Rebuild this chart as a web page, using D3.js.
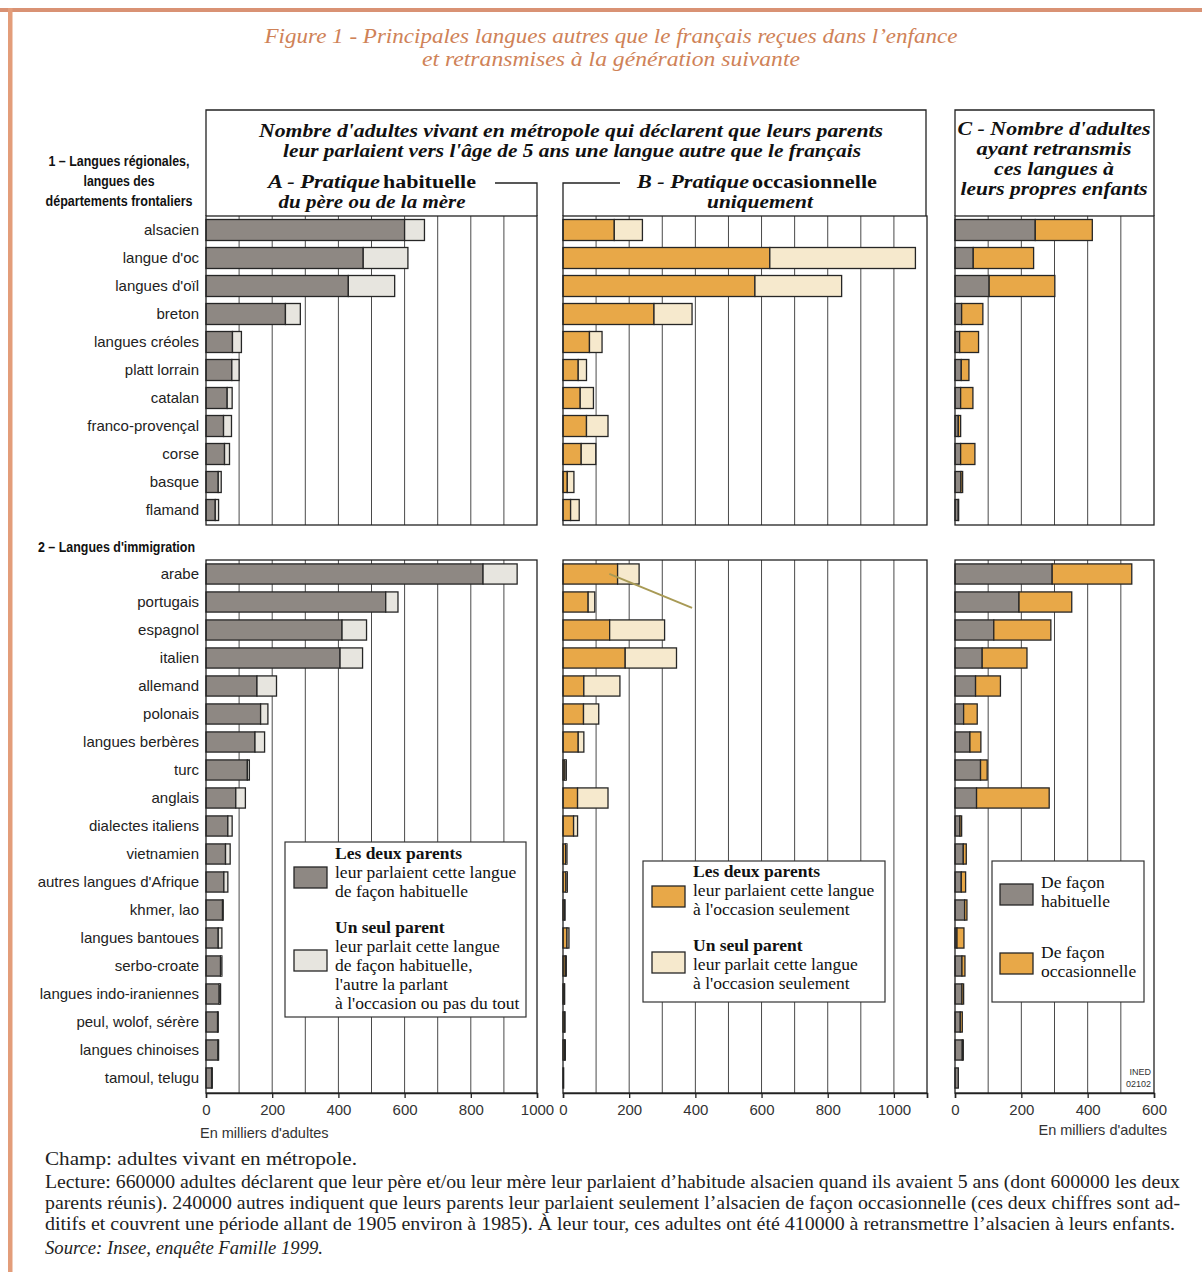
<!DOCTYPE html>
<html>
<head>
<meta charset="utf-8">
<script src="https://cdn.jsdelivr.net/npm/d3@7/dist/d3.min.js"></script>
<style>
    body { margin: 0; background: #fff; }
    svg { display: block; }
    .cat { font-family: 'Liberation Sans', Arial, sans-serif; font-size: 15px; fill: #222; }
    .sec { font-family: 'Liberation Sans', Arial, sans-serif; font-size: 14.5px; font-weight: bold; fill: #111; }
    .head { font-family: 'Liberation Serif', 'DejaVu Serif', serif; font-size: 18px; font-weight: bold; font-style: italic; fill: #111; }
    .leg { font-family: 'Liberation Serif', serif; font-size: 17.5px; fill: #111; }
    .tick text { font-family: 'Liberation Sans', Arial, sans-serif; font-size: 15px; fill: #333; }
    .unit { font-family: 'Liberation Sans', Arial, sans-serif; font-size: 14.5px; fill: #333; }
    .foot { font-family: 'Liberation Serif', serif; font-size: 18px; fill: #222; }
    .title { font-family: 'Liberation Serif', serif; font-size: 22px; font-style: italic; fill: #cf8257; }
</style>
</head>
<body>
<svg id="chart" width="1202" height="1272"></svg>
<script>
// ---- data (thousands of adults) ----
const regionalLangs = ['alsacien', "langue d'oc", "langues d'oïl", 'breton', 'langues créoles', 'platt lorrain',
    'catalan', 'franco-provençal', 'corse', 'basque', 'flamand'];
// A - habitual: both parents / one parent only
const regionalHabBoth = [600, 475, 430, 240, 80, 78, 64, 53, 56, 37, 28];
const regionalHabOne  = [60, 135, 140, 45, 27, 22, 15, 24, 15, 9, 10];
// B - occasional only: both parents / one parent
const regionalOccBoth = [155, 625, 580, 275, 80, 46, 52, 71, 55, 13, 23];
const regionalOccOne  = [85, 440, 262, 115, 38, 25, 40, 65, 44, 20, 26];
// C - transmitted to own children: habitually / occasionally
const regionalTransHab = [242, 55, 103, 20, 14, 19, 17, 10, 17, 18, 10];
const regionalTransOcc = [172, 182, 198, 64, 57, 23, 37, 7, 43, 5, 1];

const immigLangs = ['arabe', 'portugais', 'espagnol', 'italien', 'allemand', 'polonais', 'langues berbères',
    'turc', 'anglais', 'dialectes italiens', 'vietnamien', "autres langues d'Afrique", 'khmer, lao',
    'langues bantoues', 'serbo-croate', 'langues indo-iraniennes', 'peul, wolof, sérère',
    'langues chinoises', 'tamoul, telugu'];
const immigHabBoth = [837, 543, 411, 405, 154, 165, 148, 125, 90, 66, 59, 54, 50, 37, 44, 40, 35, 36, 17];
const immigHabOne  = [103, 37, 74, 68, 59, 22, 29, 6, 29, 13, 14, 12, 2, 11, 4, 4, 2, 2, 2];
const immigOccBoth = [165, 76, 141, 188, 63, 62, 46, 6, 44, 32, 8, 9, 5, 12, 7, 4, 5, 5, 2];
const immigOccOne  = [65, 20, 166, 155, 109, 46, 17, 4, 92, 12, 4, 4, 1, 6, 3, 1, 1, 2, 0];
const immigTransHab = [293, 193, 117, 82, 62, 26, 45, 77, 65, 15, 25, 19, 29, 6, 21, 21, 16, 22, 10];
const immigTransOcc = [240, 159, 172, 135, 75, 41, 33, 20, 219, 5, 9, 13, 7, 21, 9, 5, 6, 3, 0];

const tickA = [0, 200, 400, 600, 800, 1000];
const tickB = [0, 200, 400, 600, 800, 1000, 1100];
const tickC = [0, 200, 400, 600];

const titleLines = ["Figure 1 - Principales langues autres que le français reçues dans l’enfance",
    "et retransmises à la génération suivante"];
const footLines = [
    "Lecture: 660000 adultes déclarent que leur père et/ou leur mère leur parlaient d’habitude alsacien quand ils avaient 5 ans (dont 600000 les deux",
    "parents réunis). 240000 autres indiquent que leurs parents leur parlaient seulement l’alsacien de façon occasionnelle (ces deux chiffres sont ad-",
    "ditifs et couvrent une période allant de 1905 environ à 1985). À leur tour, ces adultes ont été 410000 à retransmettre l’alsacien à leurs enfants."
];

const COL = {
    dark: '#8e8883', light: '#e7e5df', orange: '#e8a848', lorange: '#f6e9cd',
    stroke: '#262626', grid: '#4a4a4a'
};

class LanguageChart {
    constructor() {
        this.svg = d3.select('#chart');
        this.xA = d3.scaleLinear().domain([0, 1000]).range([206, 537]);
        this.xB = d3.scaleLinear().domain([0, 1100]).range([563, 927]);
        this.xC = d3.scaleLinear().domain([0, 600]).range([955, 1154]);
        this.y1 = d3.scaleBand().domain(regionalLangs).range([216, 524]).paddingInner(0.25).paddingOuter(0.125);
        this.y2 = d3.scaleBand().domain(immigLangs).range([560, 1092]).paddingInner(0.28).paddingOuter(0.14);
        this.init();
    }

    init() {
        this.drawFrame();
        this.drawHeaders();
        this.drawPanel(this.xA, this.y1, 216, 525, regionalLangs, regionalHabBoth, regionalHabOne, COL.dark, COL.light);
        this.drawPanel(this.xB, this.y1, 216, 525, regionalLangs, regionalOccBoth, regionalOccOne, COL.orange, COL.lorange);
        this.drawPanel(this.xC, this.y1, 216, 525, regionalLangs, regionalTransHab, regionalTransOcc, COL.dark, COL.orange);
        this.drawPanel(this.xA, this.y2, 560, 1093, immigLangs, immigHabBoth, immigHabOne, COL.dark, COL.light);
        this.drawPanel(this.xB, this.y2, 560, 1093, immigLangs, immigOccBoth, immigOccOne, COL.orange, COL.lorange);
        this.drawPanel(this.xC, this.y2, 560, 1093, immigLangs, immigTransHab, immigTransOcc, COL.dark, COL.orange);
        this.drawLabels();
        this.drawAxes();
        this.drawLegends();
        this.drawFooter();
    }

    drawFrame() {
        this.svg.append('rect').attr('x', 0).attr('y', 8).attr('width', 1202).attr('height', 4).attr('fill', '#d99274');
        this.svg.append('rect').attr('x', 8).attr('y', 8).attr('width', 4.5).attr('height', 1264).attr('fill', '#e39d7a');
        const lens = [693, 378];
        this.svg.selectAll('text.title')
            .data(titleLines)
            .enter().append('text')
            .attr('class', 'title')
            .attr('text-anchor', 'middle')
            .attr('x', 611)
            .attr('y', (d, i) => 43 + i * 23)
            .attr('textLength', (d, i) => lens[i])
            .attr('lengthAdjust', 'spacingAndGlyphs')
            .text(d => d);
    }

    headText(g, t, x, y, len, anchor = 'start', upright = false) {
        const el = g.append('text').attr('class', 'head')
            .attr('text-anchor', anchor)
            .attr('x', x).attr('y', y)
            .attr('textLength', len).attr('lengthAdjust', 'spacingAndGlyphs')
            .text(t);
        if (upright) el.style('font-style', 'normal');
        return el;
    }

    drawHeaders() {
        const g = this.svg.append('g');
        const line = (d) => g.append('path').attr('d', d).attr('fill', 'none').attr('stroke', '#222').attr('stroke-width', 1.3);
        line('M206,216 V110 H926 V216');
        line('M955,216 V110 H1154 V216');
        line('M495,183 H537 V216');
        line('M620,183 H563 V216');

        this.headText(g, "Nombre d'adultes vivant en métropole qui déclarent que leurs parents", 571, 137, 624, 'middle');
        this.headText(g, "leur parlaient vers l'âge de 5 ans une langue autre que le français", 572, 157, 578, 'middle');

        this.headText(g, 'A - Pratique', 268, 187.5, 112);
        this.headText(g, 'habituelle', 383, 187.5, 93, 'start', true);
        this.headText(g, 'du père ou de la mère', 372, 207.5, 187, 'middle');

        this.headText(g, 'B - Pratique', 637, 187.5, 112);
        this.headText(g, 'occasionnelle', 752, 187.5, 125, 'start', true);
        this.headText(g, 'uniquement', 760, 207.5, 106, 'middle');

        const cLines = [["C - Nombre d'adultes", 193], ['ayant retransmis', 155], ['ces langues à', 120], ['leurs propres enfants', 187]];
        cLines.forEach(([t, len], i) => this.headText(g, t, 1054, 135 + i * 20, len, 'middle'));
    }

    drawPanel(x, y, top, bottom, langs, first, second, c1, c2) {
        const g = this.svg.append('g');
        const [x0, x1] = x.range();

        // vertical grid every 100
        const gridVals = d3.range(100, x.domain()[1], 100);
        g.selectAll('line.grid')
            .data(gridVals)
            .enter().append('line')
            .attr('x1', d => x(d)).attr('x2', d => x(d))
            .attr('y1', top).attr('y2', bottom)
            .attr('stroke', COL.grid).attr('stroke-width', 1);

        const rows = langs.map((l, i) => ({ lang: l, a: first[i], b: second[i] }));

        g.selectAll('rect.seg1')
            .data(rows)
            .enter().append('rect')
            .attr('x', x(0))
            .attr('y', d => y(d.lang))
            .attr('width', d => x(d.a) - x(0))
            .attr('height', y.bandwidth())
            .attr('fill', c1).attr('stroke', COL.stroke).attr('stroke-width', 1.3);

        g.selectAll('rect.seg2')
            .data(rows.filter(d => d.b > 0))
            .enter().append('rect')
            .attr('x', d => x(d.a))
            .attr('y', d => y(d.lang))
            .attr('width', d => x(d.a + d.b) - x(d.a))
            .attr('height', y.bandwidth())
            .attr('fill', c2).attr('stroke', COL.stroke).attr('stroke-width', 1.3);

        g.append('rect')
            .attr('x', x0).attr('y', top)
            .attr('width', x1 - x0).attr('height', bottom - top)
            .attr('fill', 'none').attr('stroke', '#222').attr('stroke-width', 1.3);
    }

    drawLabels() {
        const g = this.svg.append('g');
        g.selectAll('text.c1')
            .data(regionalLangs)
            .enter().append('text')
            .attr('class', 'cat')
            .attr('text-anchor', 'end')
            .attr('x', 199)
            .attr('y', d => this.y1(d) + this.y1.bandwidth() / 2)
            .attr('dy', '0.35em')
            .text(d => d);
        g.selectAll('text.c2')
            .data(immigLangs)
            .enter().append('text')
            .attr('class', 'cat')
            .attr('text-anchor', 'end')
            .attr('x', 199)
            .attr('y', d => this.y2(d) + this.y2.bandwidth() / 2)
            .attr('dy', '0.35em')
            .text(d => d);

        const secLines = [['1 – Langues régionales,', 141], ['langues des', 71], ['départements frontaliers', 147]];
        secLines.forEach(([t, len], i) => {
            g.append('text').attr('class', 'sec').attr('text-anchor', 'middle')
                .attr('x', 119).attr('y', 166 + i * 20)
                .attr('textLength', len).attr('lengthAdjust', 'spacingAndGlyphs')
                .text(t);
        });
        g.append('text').attr('class', 'sec').attr('x', 38).attr('y', 552)
            .attr('textLength', 157).attr('lengthAdjust', 'spacingAndGlyphs')
            .text("2 – Langues d'immigration");

        // stray pen stroke visible on the scan
        g.append('line')
            .attr('x1', this.xB(140)).attr('y1', this.y2('arabe') + 10)
            .attr('x2', this.xB(390)).attr('y2', this.y2('portugais') + 16)
            .attr('stroke', '#a89a55').attr('stroke-width', 2);
    }

    drawAxes() {
        const mk = (x, vals) => {
            const ax = d3.axisBottom(x).tickValues(vals).tickSize(5).tickPadding(6)
                .tickFormat(d => (d === 1100 ? '' : d3.format('d')(d)));
            const g = this.svg.append('g').attr('transform', 'translate(0,1093)').call(ax);
            g.select('.domain').attr('stroke', '#222').attr('stroke-width', 1.5);
            g.selectAll('.tick line').attr('stroke', '#222').attr('stroke-width', 1.3);
        };
        mk(this.xA, tickA);
        mk(this.xB, tickB);
        mk(this.xC, tickC);

        this.svg.append('text').attr('class', 'unit').attr('x', 200).attr('y', 1138).text("En milliers d'adultes");
        this.svg.append('text').attr('class', 'unit').attr('text-anchor', 'end').attr('x', 1167).attr('y', 1135).text("En milliers d'adultes");
        this.svg.append('text').attr('class', 'unit').style('font-size', '9px').attr('text-anchor', 'end')
            .attr('x', 1151).attr('y', 1075).text('INED');
        this.svg.append('text').attr('class', 'unit').style('font-size', '9px').attr('text-anchor', 'end')
            .attr('x', 1151).attr('y', 1087).text('02102');
    }

    legendBox(x, y, w, h, items) {
        const g = this.svg.append('g');
        g.append('rect').attr('x', x).attr('y', y).attr('width', w).attr('height', h)
            .attr('fill', '#fff').attr('stroke', '#333').attr('stroke-width', 1.2);
        items.forEach(it => {
            g.append('rect').attr('x', it.sx).attr('y', it.sy).attr('width', 33).attr('height', 21)
                .attr('fill', it.color).attr('stroke', COL.stroke).attr('stroke-width', 1.3);
            it.lines.forEach((t, i) => {
                g.append('text').attr('class', 'leg')
                    .style('font-weight', (it.bold && i === 0) ? 'bold' : 'normal')
                    .attr('x', it.tx).attr('y', it.ty + i * 19).text(t);
            });
        });
    }

    drawLegends() {
        this.legendBox(285, 842, 241, 175, [
            { sx: 294, sy: 867, tx: 335, ty: 859, color: COL.dark, bold: true,
              lines: ['Les deux parents', 'leur parlaient cette langue', 'de façon habituelle'] },
            { sx: 294, sy: 950, tx: 335, ty: 933, color: COL.light, bold: true,
              lines: ['Un seul parent', 'leur parlait cette langue', 'de façon habituelle,', "l'autre la parlant", "à l'occasion ou pas du tout"] }
        ]);
        this.legendBox(643, 861, 242, 141, [
            { sx: 652, sy: 886, tx: 693, ty: 877, color: COL.orange, bold: true,
              lines: ['Les deux parents', 'leur parlaient cette langue', "à l'occasion seulement"] },
            { sx: 652, sy: 952, tx: 693, ty: 951, color: COL.lorange, bold: true,
              lines: ['Un seul parent', 'leur parlait cette langue', "à l'occasion seulement"] }
        ]);
        this.legendBox(992, 861, 152, 141, [
            { sx: 1000, sy: 884, tx: 1041, ty: 888, color: COL.dark, bold: false, lines: ['De façon', 'habituelle'] },
            { sx: 1000, sy: 953, tx: 1041, ty: 958, color: COL.orange, bold: false, lines: ['De façon', 'occasionnelle'] }
        ]);
    }

    drawFooter() {
        const g = this.svg.append('g');
        g.append('text').attr('class', 'foot').attr('x', 45).attr('y', 1165)
            .attr('textLength', 312).attr('lengthAdjust', 'spacingAndGlyphs')
            .text('Champ: adultes vivant en métropole.');
        g.selectAll('text.lect')
            .data(footLines)
            .enter().append('text')
            .attr('class', 'foot')
            .attr('x', 45)
            .attr('y', (d, i) => 1188 + i * 21)
            .attr('textLength', (d, i) => i === 2 ? 1130 : 1135)
            .attr('lengthAdjust', 'spacingAndGlyphs')
            .text(d => d);
        g.append('text').attr('class', 'foot').style('font-style', 'italic')
            .attr('x', 45).attr('y', 1254)
            .attr('textLength', 278).attr('lengthAdjust', 'spacingAndGlyphs')
            .text('Source: Insee, enquête Famille 1999.');
    }
}

document.addEventListener('DOMContentLoaded', () => {
    new LanguageChart();
});
</script>
</body>
</html>
